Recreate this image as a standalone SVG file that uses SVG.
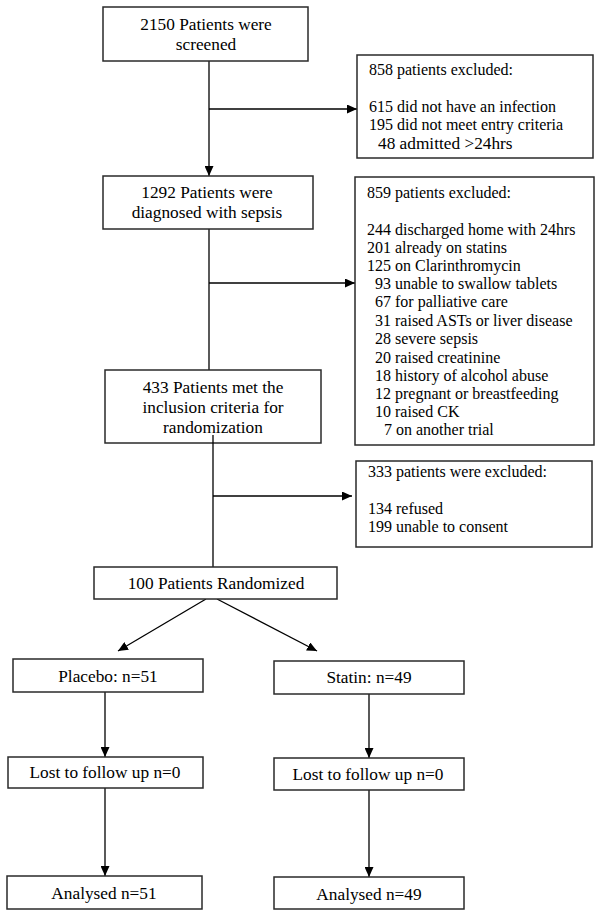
<svg xmlns="http://www.w3.org/2000/svg" width="600" height="917" viewBox="0 0 600 917">
<defs>
<style>
.box{fill:#fff;stroke:#2a2a2a;stroke-width:1.5}
text{font-family:'Liberation Serif','Times New Roman',Times,'DejaVu Serif',serif;fill:#000}
.t{font-size:17.3px;text-anchor:middle}
.s{font-size:16px}
.b{font-size:17.3px}
.c{fill:none;stroke:#000;stroke-width:1.3}
</style>
<marker id="ah" markerUnits="userSpaceOnUse" markerWidth="10" markerHeight="9" refX="10" refY="4.5" orient="auto">
<path d="M0,0 L10,4.5 L0,9 z" fill="#000"/>
</marker>
</defs>
<rect width="600" height="917" fill="#fff"/>
<g id="connectors">
<line class="c" x1="209" y1="61" x2="209" y2="176" marker-end="url(#ah)"/>
<line class="c" x1="209" y1="109" x2="357" y2="109" marker-end="url(#ah)"/>
<line class="c" x1="209" y1="229" x2="209" y2="370"/>
<line class="c" x1="209" y1="283" x2="355" y2="283" marker-end="url(#ah)"/>
<line class="c" x1="213" y1="496" x2="352" y2="496" marker-end="url(#ah)"/>
<line class="c" x1="206" y1="599" x2="118" y2="651" marker-end="url(#ah)"/>
<line class="c" x1="217" y1="599" x2="317" y2="651" marker-end="url(#ah)"/>
<line class="c" x1="105" y1="692" x2="105" y2="757" marker-end="url(#ah)"/>
<line class="c" x1="369" y1="694" x2="369" y2="758" marker-end="url(#ah)"/>
<line class="c" x1="105" y1="788" x2="105" y2="876" marker-end="url(#ah)"/>
<line class="c" x1="369" y1="790" x2="369" y2="877" marker-end="url(#ah)"/>
</g>
<g id="screened">
<rect class="box" x="103" y="7" width="205" height="54"/>
<text class="t" x="206" y="30" font-family="Liberation Serif, serif">2150 Patients were</text>
<text class="t" x="206" y="50" font-family="Liberation Serif, serif">screened</text>
</g>
<g id="excluded858">
<rect class="box" x="357" y="55" width="236" height="103"/>
<text class="s" x="369" y="75">858 patients excluded:</text>
<text class="s" x="369" y="112">615 did not have an infection</text>
<text class="s" x="369" y="130">195 did not meet entry criteria</text>
<text class="s b" x="378" y="149">48 admitted &gt;24hrs</text>
</g>
<g id="sepsis">
<rect class="box" x="103" y="176" width="210" height="53"/>
<text class="t" x="207" y="198">1292 Patients were</text>
<text class="t" x="207" y="218">diagnosed with sepsis</text>
</g>
<g id="excluded859">
<rect class="box" x="355" y="177" width="239" height="268"/>
<text class="s" x="367" y="198">859 patients excluded:</text>
<text class="s" x="367" y="235">244 discharged home with 24hrs</text>
<text class="s" x="367" y="253">201 already on statins</text>
<text class="s" x="367" y="271">125 on Clarinthromycin</text>
<text class="s" x="375" y="289">93 unable to swallow tablets</text>
<text class="s" x="375" y="307">67 for palliative care</text>
<text class="s" x="375" y="326">31 raised ASTs or liver disease</text>
<text class="s" x="375" y="344">28 severe sepsis</text>
<text class="s" x="375" y="363">20 raised creatinine</text>
<text class="s" x="375" y="381">18 history of alcohol abuse</text>
<text class="s" x="375" y="399">12 pregnant or breastfeeding</text>
<text class="s" x="375" y="417">10 raised CK</text>
<text class="s" x="384" y="435">7 on another trial</text>
</g>
<g id="inclusion">
<rect class="box" x="105" y="370" width="216" height="73"/>
<text class="t" x="213" y="393">433 Patients met the</text>
<text class="t" x="213" y="413">inclusion criteria for</text>
<text class="t" x="213" y="433">randomization</text>
</g>
<line class="c" x1="213" y1="435" x2="213" y2="567"/>
<g id="excluded333">
<rect class="box" x="356" y="461" width="236" height="86"/>
<text class="s" x="368" y="477">333 patients were excluded:</text>
<text class="s" x="368" y="514">134 refused</text>
<text class="s" x="368" y="532">199 unable to consent</text>
</g>
<g id="randomized">
<rect class="box" x="94" y="567" width="243" height="32"/>
<text class="t" x="216" y="589">100 Patients Randomized</text>
</g>
<g id="placebo">
<rect class="box" x="13" y="659" width="190" height="33"/>
<text class="t" x="108" y="682">Placebo: n=51</text>
</g>
<g id="statin">
<rect class="box" x="274" y="661" width="190" height="33"/>
<text class="t" x="369" y="683">Statin: n=49</text>
</g>
<g id="lost-placebo">
<rect class="box" x="8" y="757" width="195" height="31"/>
<text class="t" x="105" y="778">Lost to follow up n=0</text>
</g>
<g id="lost-statin">
<rect class="box" x="274" y="758" width="190" height="32"/>
<text class="t" x="368" y="780">Lost to follow up n=0</text>
</g>
<g id="analysed-placebo">
<rect class="box" x="7" y="876" width="195" height="33"/>
<text class="t" x="104" y="899">Analysed n=51</text>
</g>
<g id="analysed-statin">
<rect class="box" x="274" y="877" width="190" height="32"/>
<text class="t" x="369" y="900">Analysed n=49</text>
</g>
</svg>
